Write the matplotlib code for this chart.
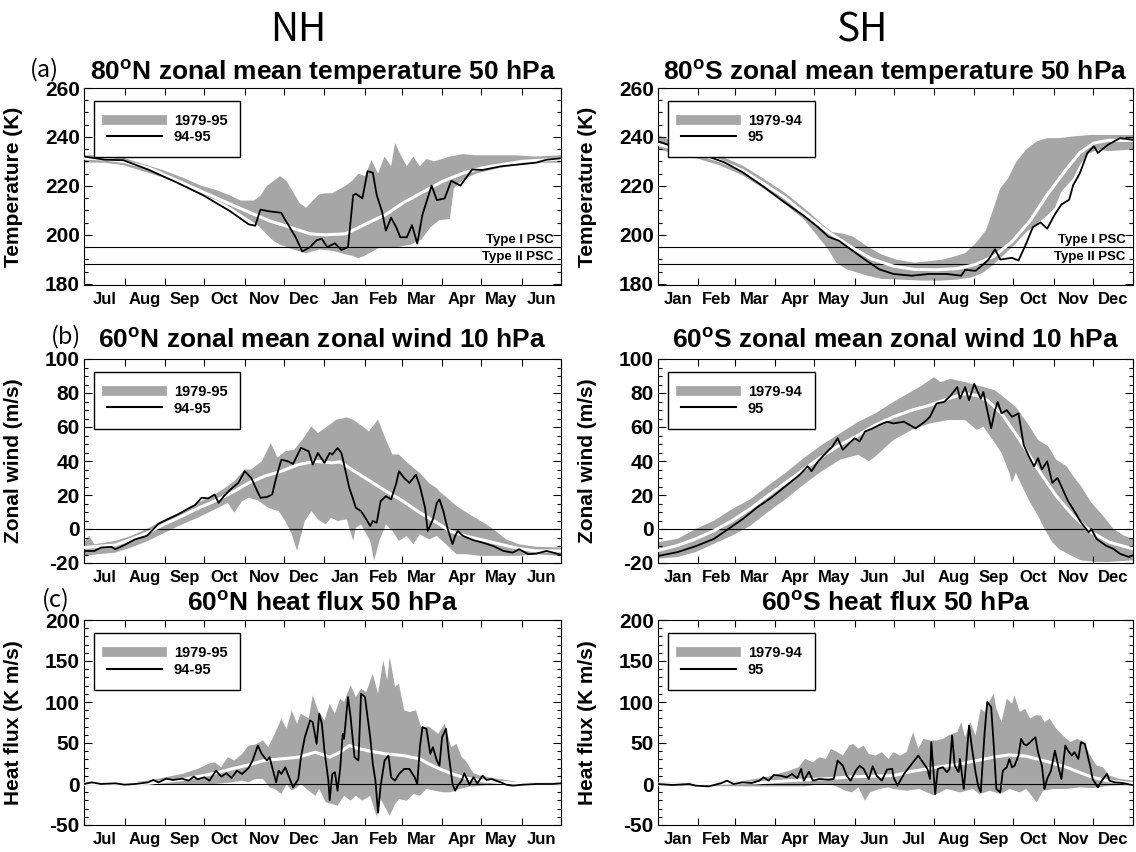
import numpy as np
from matplotlib import pyplot as plt
from matplotlib import transforms
from matplotlib.lines import Line2D
from matplotlib.ticker import MultipleLocator, NullFormatter

plt.rcParams["font.family"] = ["Liberation Sans", "DejaVu Sans"]
plt.rcParams["font.weight"] = "bold"
plt.rcParams["axes.unicode_minus"] = False
plt.rcParams["mathtext.fontset"] = "custom"
plt.rcParams["mathtext.bf"] = "Liberation Sans:bold"
plt.rcParams["mathtext.rm"] = "Liberation Sans:bold"

BAND = "#a6a6a6"

NH_MONTHS = ["Jul", "Aug", "Sep", "Oct", "Nov", "Dec", "Jan", "Feb", "Mar", "Apr", "May", "Jun"]
NH_MONTH_LEN = [31, 31, 30, 31, 30, 31, 31, 28, 31, 30, 31, 30]
SH_MONTHS = ["Jan", "Feb", "Mar", "Apr", "May", "Jun", "Jul", "Aug", "Sep", "Oct", "Nov", "Dec"]
SH_MONTH_LEN = [31, 28, 31, 30, 31, 30, 31, 31, 30, 31, 30, 31]
NH_LEGEND = ["1979-95", "94-95"]
SH_LEGEND = ["1979-94", "95"]
PSC_TEMP = [195, 188]
PSC_NAME = ["Type I PSC", "Type II PSC"]

# (a) NH 80N temperature 50 hPa, day 0 = 1 Jul
nh_t_hi_day = [0, 15, 30, 45, 60, 75, 90, 100, 110, 120, 130, 135, 140, 145, 150, 155, 160, 165, 170, 175,
               180, 185, 190, 195, 200, 205, 210, 215, 220, 225, 230, 235, 238, 242, 247, 252, 257, 262, 268, 274,
               280, 290, 300, 315, 330, 345, 365]
nh_t_hi = [232.5, 232.5, 231.5, 229, 226.5, 223.5, 220, 218.5, 216.5, 214, 214, 216, 220, 222, 224, 222, 217.5, 213, 211, 214,
           216.5, 217, 217, 218.5, 220, 222, 225, 224, 230.5, 225, 232, 228, 237.5, 233, 228, 232, 228, 231, 230, 231,
           232, 233, 232.5, 232.5, 232.5, 232, 232.5]
nh_t_lo_day = [0, 15, 30, 45, 60, 75, 90, 100, 110, 120, 130, 135, 140, 145, 150, 160, 170, 180, 190, 200,
               205, 210, 215, 220, 225, 230, 240, 250, 258, 265, 272, 280, 283, 290, 300, 315, 330, 345, 365]
nh_t_lo = [229.5, 229.5, 228.5, 226, 223.5, 220.5, 216.5, 214.5, 212, 208.5, 205, 203, 200, 197.5, 196, 194, 192.5, 194, 193.5, 192,
           191.5, 190.5, 191.5, 193, 194.5, 195, 195, 196, 198, 203, 206, 206.5, 219, 222.5, 225, 227, 228.5, 229.5, 229.5]
nh_t_mean_day = [0, 15, 30, 49, 70, 91, 123, 142, 154, 173, 184, 200, 208, 215, 231, 244, 261, 275, 291, 305, 335, 365]
nh_t_mean = [231.3, 231, 230, 227.4, 222.5, 217.5, 210, 205.7, 203.7, 200.4, 200, 200.4, 202.4, 204.3, 208.3, 213, 218, 222,
             225.4, 227.4, 230, 231]
nh_t_obs_day = [0, 16, 30, 49, 71, 91, 112, 126, 131, 135, 142, 151, 153, 162, 167, 173, 178, 182, 186, 192,
                197, 202, 206, 208, 213, 217, 221, 224, 228, 231, 235, 239, 242, 247, 251, 255, 259, 266, 270, 276,
                281, 288, 297, 305, 319, 332, 346, 354, 365]
nh_t_obs = [232, 230.7, 230.5, 226.7, 221.4, 216.2, 209.6, 204.3, 203.7, 210.3, 209.6, 209, 207, 199, 193.2, 195, 197.8, 198.4, 195, 196.5,
            193.8, 195, 216.2, 216.8, 214.9, 226, 225.4, 216.2, 209.6, 201.7, 207, 203, 199, 199, 204, 196.4, 208.3, 220.1, 214.2, 214.9,
            222.1, 220.1, 226.7, 226.5, 228, 228.7, 229.5, 230.7, 231.3]

# (a) SH 80S temperature 50 hPa, day 0 = 1 Jan
sh_t_hi_day = [0, 15, 32, 48, 65, 81, 98, 115, 126, 134, 142, 150, 161, 172, 183, 197, 208, 219, 228, 236,
               244, 252, 258, 263, 269, 275, 283, 291, 299, 308, 319, 332, 346, 365]
sh_t_hi = [240.8, 237.5, 234.9, 232.2, 228.3, 223, 217, 209.7, 204.4, 201.1, 200.5, 199.2, 195.2, 191.9, 189.9, 188.6, 189.2, 189.9, 191.2, 192.5,
           196.5, 201.8, 211.1, 219, 223, 229.6, 234.9, 238.2, 239.5, 239.5, 240.2, 240.8, 240.8, 240.8]
sh_t_lo_day = [0, 15, 32, 48, 65, 81, 98, 112, 123, 131, 137, 145, 153, 161, 172, 186, 203, 217, 230, 241,
               250, 258, 266, 275, 283, 291, 299, 305, 310, 319, 324, 330, 338, 346, 365]
sh_t_lo = [234.9, 232.9, 230.9, 228.3, 224.3, 219, 212.4, 206.4, 199.2, 193.9, 188.6, 185.9, 184.6, 183.3, 182, 181.7, 181.3, 181.3, 181.7, 182.6,
           184.6, 187.9, 191.9, 196.5, 201.1, 204.4, 207.8, 211.1, 217.7, 223, 228.3, 232.9, 234.9, 234.2, 234.9]
sh_t_mean_day = [0, 15, 32, 48, 65, 81, 98, 115, 131, 148, 164, 181, 197, 214, 230, 244, 258, 272, 286, 299,
                 313, 324, 335, 346, 365]
sh_t_mean = [236.9, 235.1, 232.9, 230.2, 226.3, 221, 215, 207.7, 201.1, 195.2, 190.2, 187.2, 185.9, 185.7, 186.2, 187.9, 191.2, 197.2, 205.8, 216.3,
             226.3, 233.5, 237.5, 238.6, 238.6]
sh_t_obs_day = [0, 15, 32, 51, 65, 81, 98, 112, 123, 131, 139, 148, 159, 170, 181, 195, 208, 222, 233, 236,
                244, 250, 254, 259, 263, 272, 277, 283, 288, 294, 299, 305, 310, 316, 319, 324, 330, 335, 338, 346,
                355, 365]
sh_t_obs = [238.2, 235.5, 233.3, 229.6, 225.6, 219.7, 213, 207.8, 203.1, 199.2, 197.6, 194.1, 189.9, 185.9, 184, 183.3, 184, 184, 183.3, 185.7,
            185.3, 187.9, 189.9, 194.1, 189.9, 190.6, 189.5, 196.5, 203.1, 205.1, 202.5, 208.4, 212.4, 214.4, 220.3, 225, 233.5, 236.2, 233.5, 236.9,
            239.5, 238.8]

# (b) NH 60N zonal wind 10 hPa
nh_u_hi_day = [0, 4, 8, 24, 36, 49, 62, 75, 87, 100, 108, 115, 123, 128, 136, 143, 148, 154, 161, 168,
               174, 179, 188, 193, 201, 206, 213, 218, 225, 231, 236, 241, 246, 252, 257, 264, 270, 272, 277, 285,
               295, 308, 315, 323, 333, 346, 365]
nh_u_hi = [-8, -4, -9, -7, -4.1, 0.4, 5.7, 10.5, 15.4, 20.3, 24.2, 28.1, 35, 35, 39.8, 50.6, 42, 45.7, 46.7, 53.5,
           60.4, 56.4, 61.3, 64.3, 65.6, 64.3, 60.4, 57.4, 64.3, 52.5, 43.8, 43.8, 40, 36, 33, 27, 24, 22, 19, 13.5,
           8.6, 2.7, -1.2, -6.1, -9, -10.5, -10.9]
nh_u_lo_day = [0, 11, 24, 36, 49, 62, 75, 87, 100, 110, 115, 121, 126, 133, 141, 149, 154, 159, 163, 165,
               169, 174, 179, 185, 189, 194, 201, 206, 208, 212, 219, 222, 226, 231, 236, 241, 247, 252, 257, 264,
               270, 277, 285, 292, 303, 313, 323, 333, 346, 365]
nh_u_lo = [-15.8, -14.8, -13.9, -10.9, -7, -2.1, 2.7, 6.6, 11.5, 15.4, 9.6, 16.4, 18.4, 16.8, 12.5, 10.5, 4.7, -3.1, -12.9, -7,
           4.7, 10.5, 5.7, 2.7, 6.6, 4.7, 5.7, -7, 0.8, 2.7, -7, -18.8, -7, 2.7, -1.2, -7, -4.1, -9, -3.1, -6.1,
           -4.1, -9, -14.8, -14.8, -15.8, -15.8, -15.8, -15.8, -14.8, -16]
nh_u_mean_day = [0, 24, 36, 49, 61, 75, 87, 100, 113, 126, 138, 151, 164, 177, 190, 196, 203, 219, 231, 244,
                 257, 270, 280, 295, 308, 321, 333, 346, 365]
nh_u_mean = [-10.9, -9.4, -6.1, -2.1, 2.7, 7.6, 12.1, 16.4, 21.3, 27.1, 31, 34, 37.9, 39.8, 38.9, 39.5, 35.9, 28.1, 22.3, 16.4,
             9.6, 3.7, -1.2, -4.7, -7, -9.4, -11.5, -12.9, -12.9]
nh_u_obs_day = [0, 8, 13, 21, 24, 31, 39, 48, 53, 57, 64, 72, 80, 85, 90, 95, 100, 103, 107, 112,
                118, 123, 128, 132, 135, 140, 144, 147, 151, 156, 160, 166, 172, 175, 179, 184, 188, 190, 194, 197,
                199, 203, 206, 208, 212, 216, 219, 221, 224, 227, 231, 235, 239, 241, 245, 249, 254, 257, 261, 263,
                267, 270, 272, 275, 278, 282, 284, 286, 290, 298, 305, 313, 321, 328, 333, 340, 346, 354, 359, 365]
nh_u_obs = [-12.9, -12.9, -10.9, -10.5, -11.9, -9.4, -6.1, -4.1, -0.2, 3.1, 5.7, 8.6, 12.1, 14.1, 18.4, 18, 20.3, 15.4, 19.3, 23.2,
            27.1, 34, 30, 23.2, 18.4, 18.8, 20.3, 30, 40.8, 39.8, 38.3, 47.7, 45.7, 37.9, 44.7, 38.9, 44.7, 43.8, 47.7, 44.7,
            37.9, 24.2, 17.4, 12.5, 10.5, 5.7, 1.8, 4.7, 3.7, 16.4, 19.3, 17.4, 27.1, 34, 30, 27.1, 32, 25.2, 12.5, -1.2,
            5.7, 15.4, 17.4, 10.5, 0.8, -9, -4.1, -1.2, -4.1, -6.6, -8, -10, -12.9, -13.9, -11.9, -14.8, -14.5, -12.9, -13.9, -15.2]

# (b) SH 60S zonal wind 10 hPa
sh_u_hi_day = [0, 15, 29, 43, 57, 71, 84, 98, 112, 126, 140, 154, 167, 181, 192, 203, 212, 217, 225, 236,
               250, 259, 267, 275, 284, 292, 300, 306, 314, 319, 325, 333, 342, 350, 358, 365]
sh_u_hi = [-7.8, -5.8, 0, 4.9, 11.7, 17.5, 25.2, 33, 41.7, 49.5, 56.3, 63.1, 68, 74.8, 79.6, 84.5, 89.3, 86.4, 88.3, 86.4,
           83.5, 81.6, 76.7, 71.8, 62.1, 52.4, 48.5, 40.8, 36.9, 31.1, 25.2, 15.5, 7.8, 0, -3.9, -5.8]
sh_u_lo_day = [0, 15, 29, 43, 57, 71, 84, 98, 112, 126, 140, 154, 162, 167, 181, 195, 209, 223, 236, 245,
               250, 259, 264, 270, 272, 275, 281, 286, 292, 297, 303, 308, 317, 325, 336, 347, 365]
sh_u_lo = [-17.5, -16.5, -13.6, -8.7, -3.9, 1.9, 9.7, 17.5, 26.2, 34, 40.8, 43.7, 39.8, 42.7, 52.4, 58.3, 62.1, 64.1, 64.1, 58.3,
           60.2, 50.5, 44.7, 33, 27.2, 33, 23.3, 15.5, 7.8, 0, -7.8, -11.7, -15.5, -18.4, -19.4, -19.4, -18.4]
sh_u_mean_day = [0, 15, 29, 43, 57, 71, 84, 98, 112, 126, 140, 154, 167, 181, 195, 209, 223, 236, 245, 253,
                 264, 278, 292, 306, 319, 333, 347, 365]
sh_u_mean = [-12.6, -9.7, -5.8, -1, 4.9, 12, 19.4, 27.2, 35, 42.7, 49.5, 55.3, 61.2, 66, 69.9, 72.8, 76.7, 79.6, 78.6, 75.7,
             68, 52.4, 35, 19.4, 7.8, -1.9, -7.8, -11.7]
sh_u_obs_day = [0, 15, 29, 43, 54, 65, 76, 87, 98, 109, 115, 118, 123, 129, 134, 138, 142, 147, 151, 155,
                159, 165, 170, 176, 181, 189, 198, 205, 209, 214, 220, 225, 230, 232, 236, 239, 243, 248, 250, 256,
                259, 261, 264, 268, 272, 277, 281, 285, 289, 292, 295, 299, 303, 307, 311, 315, 319, 325, 331, 333,
                337, 344, 350, 355, 362, 365]
sh_u_obs = [-15.9, -13.6, -10.1, -5.8, 0, 5.8, 12.6, 18.4, 25.2, 32, 36.9, 34, 39.8, 44.7, 48.5, 53.4, 46.6, 50.5, 53.4, 51.5,
            57.3, 59.2, 61.2, 63.1, 62.1, 63.1, 59.2, 63.1, 66, 73.8, 74.8, 78.6, 83.5, 76.7, 83.5, 75.7, 85.4, 76.7, 80.6, 59.2,
            69.9, 74.8, 68, 69.9, 66, 68, 49.5, 42.7, 36.9, 41.7, 35, 39.8, 27.2, 30.1, 23.3, 16.5, 11.7, 3.9, -1.9, 0,
            -5.8, -9.7, -11.7, -14.6, -16.5, -15.5]

# (c) NH 60N heat flux 50 hPa
nh_q_hi_day = [0, 36, 49, 62, 75, 87, 95, 100, 105, 110, 115, 121, 126, 131, 137, 141, 146, 151, 155, 159,
               163, 166, 172, 175, 179, 184, 188, 192, 196, 199, 204, 208, 212, 216, 221, 225, 229, 232, 234, 238,
               241, 245, 249, 254, 258, 264, 271, 276, 281, 285, 289, 292, 298, 303, 313, 323, 333, 365]
nh_q_hi = [2, 2, 4.1, 8.2, 12.2, 18.4, 24.5, 26.5, 20.4, 32.7, 28.6, 36.7, 46.9, 48, 53.1, 44.9, 61.2, 79.6, 67.3, 89.8,
           73.5, 85.7, 80, 108.2, 89.8, 77.6, 98, 85.7, 104.1, 100, 120.4, 106.1, 116.3, 112, 134.7, 110.2, 151, 126.5, 155.1, 118.4,
           122.4, 89.8, 87.8, 89.8, 69.4, 70, 61.2, 73.5, 44.9, 49, 32.7, 28.6, 13.1, 10.2, 7.3, 4.9, 2, 2]
nh_q_lo_day = [0, 75, 100, 113, 121, 126, 131, 137, 142, 146, 151, 155, 159, 163, 166, 172, 177, 180, 185, 189,
               194, 199, 204, 208, 213, 219, 224, 227, 234, 238, 241, 247, 252, 257, 262, 268, 275, 281, 287, 295,
               308, 333, 365]
nh_q_lo = [-0.8, -0.8, 0, 2, 4.1, 2, 6.1, 6.1, -4.1, -6.1, -12.2, 0, -8.2, -4.1, 0, -8.2, -14.3, -6.1, -22.4, -24,
           -26.5, -14.3, -20.4, -14.3, -20.4, -14.3, -40, -18.4, -38.8, -24.5, -18.4, -20.4, -12.2, -14.3, -6.1, -8.2, -10.2, -10, -6.1, -3.3,
           -1.6, -0.8, -0.8]
nh_q_mean_day = [0, 49, 75, 100, 113, 126, 138, 151, 164, 177, 188, 196, 203, 211, 219, 231, 244, 257, 264, 272,
                 282, 292, 303, 318, 333, 365]
nh_q_mean = [0, 0.8, 5.3, 13.1, 18.4, 23.3, 28.6, 30.6, 32.7, 38.8, 32.7, 38.8, 46.9, 42.9, 40, 36.7, 34.7, 30.6, 24.5, 18.4,
             12.2, 7.3, 4.1, 2, 0.4, 0]
nh_q_obs_day = [0, 6, 13, 24, 31, 39, 49, 53, 57, 63, 68, 75, 80, 84, 87, 92, 96, 101, 105, 109,
                113, 117, 121, 126, 129, 133, 136, 140, 142, 145, 147, 149, 151, 154, 156, 160, 164, 166, 169, 173,
                175, 178, 180, 182, 184, 187, 188, 190, 192, 194, 196, 198, 199, 202, 204, 207, 210, 212, 215, 219,
                221, 223, 225, 227, 230, 233, 235, 238, 241, 245, 249, 253, 255, 257, 259, 262, 265, 267, 270, 272,
                274, 277, 279, 282, 284, 286, 289, 291, 295, 298, 301, 305, 308, 312, 315, 319, 323, 328, 336, 346,
                359, 365]
nh_q_obs = [0, 2, 0, 0.8, -0.8, 0, 2, 4.9, 2, 6.5, 4.9, 6.5, 4.1, 9, 5.7, 8.2, 4.1, 16.3, 9, 13.1,
            7.3, 16.3, 12.2, 19.6, 28.6, 46.9, 36.7, 28.6, 32.7, 14.3, 2, 16.3, 12.2, 20.4, 12.2, -4.1, 6.1, 32.7, 57.1, 77.6,
            75.5, 49, 85.7, 73.5, 40.8, 4.1, -20, 12.2, 14.3, -8.2, 18.4, 61.2, 55.1, 106.1, 81.6, 32.7, 28.6, 110.2, 106.1, 57.1,
            24.5, 4.1, -35, -2, 28.6, 34.7, 8.2, 4.1, 12.2, 18.4, 18.4, 8.2, 0, 44.9, 69.4, 67.3, 36.7, 44.9, 28.6, 22.4,
            57.1, 67.3, 36.7, 0, -8.2, -2, 4.1, 13.1, -0.8, 8.2, 0.8, 10.2, 4.9, 6.1, 4.1, 2, -0.8, -2, -0.8, 0,
            0, 0.8]

# (c) SH 60S heat flux 50 hPa
sh_q_hi_day = [0, 62, 75, 88, 101, 108, 113, 119, 124, 129, 133, 138, 142, 147, 150, 154, 158, 162, 167, 172,
               177, 181, 186, 191, 196, 200, 204, 209, 214, 219, 224, 230, 233, 236, 240, 244, 248, 251, 255, 258,
               260, 264, 268, 272, 274, 278, 282, 286, 290, 294, 297, 301, 306, 311, 317, 322, 327, 332, 337, 342,
               347, 355, 365]
sh_q_hi = [2, 2.9, 6.1, 10.2, 16.3, 20.4, 30.6, 26.5, 32.7, 30.6, 42.9, 38.8, 34.7, 46.9, 49, 42.9, 46.9, 36.7, 34.7, 38.8,
           30.6, 38.8, 34.7, 38.8, 63.3, 42.9, 55.1, 53, 53.1, 55.1, 60, 63.3, 75.5, 57.1, 75.5, 59.2, 91.8, 87.8, 102, 110.2,
           91.8, 75.5, 104.1, 98, 108.2, 87.8, 91.8, 79.6, 83.7, 83.7, 75.5, 79.6, 67.3, 59.2, 51, 55, 52, 35, 22.4, 20.4,
           10.2, 6.1, 4.1]
sh_q_lo_day = [0, 75, 113, 126, 136, 144, 149, 154, 159, 163, 170, 177, 181, 191, 201, 212, 222, 232, 242, 247,
               255, 263, 270, 278, 283, 291, 296, 304, 314, 324, 334, 347, 365]
sh_q_lo = [-2, -3, -2.9, 0, -2, -8.2, -10.2, -4.1, -20.4, -10.2, -6.1, -4.1, -6.1, -8.2, -6.1, -14, -6.1, -10.2, -6.1, -12.2,
           -8.2, -12.2, -6.1, -10.2, -6.1, -22.4, -8.2, -6.1, -6.1, -4.1, -5, -2, -1.2]
sh_q_mean_day = [0, 75, 101, 126, 152, 181, 194, 207, 219, 232, 245, 258, 270, 283, 291, 301, 314, 327, 334, 345,
                 360, 365]
sh_q_mean = [0, 1.2, 4.1, 6.1, 9, 10.2, 15.1, 18.4, 21.6, 24.5, 28.6, 32.7, 35.5, 33.9, 30.6, 26.5, 20.4, 12.2, 8.2, 4.1,
             1.2, 0.4]
sh_q_obs_day = [0, 11, 24, 29, 39, 49, 53, 58, 65, 72, 78, 81, 85, 89, 94, 99, 103, 107, 110, 112,
                116, 119, 124, 131, 135, 138, 142, 145, 148, 152, 155, 158, 162, 165, 168, 172, 176, 180, 181, 184,
                189, 192, 200, 207, 209, 210, 213, 215, 219, 222, 224, 226, 228, 231, 232, 235, 237, 239, 241, 244,
                246, 248, 251, 253, 256, 258, 260, 263, 265, 268, 270, 272, 274, 277, 279, 281, 283, 286, 290, 292,
                295, 297, 299, 302, 305, 308, 310, 313, 315, 318, 320, 323, 325, 328, 332, 334, 338, 341, 345, 347,
                351, 357, 365]
sh_q_obs = [0, -1.2, 0, -2, -2.9, 1.2, 4.1, 0, 2, 1.2, 4.1, 8.2, 4.1, 11, 10.2, 8.2, 12.2, 6.9, 18.4, 4.1,
            15.1, 4.1, 6.1, 5.3, 6.1, 28.6, 22.4, 10.2, 4.1, 16.3, 22.4, 18.4, 6.1, 21.6, 10.2, 4.1, 17.6, 18.4, 8.2, -2,
            12.2, 18.4, 34.7, 18.4, 6.1, 51, -12.2, 18.4, 20.4, 14.3, 18.4, 59.2, 22.4, 14.3, 30.6, -6.1, 30.6, 71.4, 46.9, 14.3,
            -2, -10.2, 63.3, 100, 93.9, 46.9, -6.1, -10.2, 16.3, 20.4, 30.6, 20.4, 22.4, 34.7, 55.1, 49, 46.9, 51, 57.1, 38.8,
            22.4, -6.1, 6.1, 16.3, 40.8, 18.4, 6.1, 46.9, 40.8, 34.7, 38.8, 30.6, 51, 49, 22.4, 6.1, -4.1, 4.1, 12.2, 4.1,
            2, 1.2, -1.5]


def draw_panel(ax, band, mean, obs, months, month_len, legend_labels, ylim, major, minor):
    hi_day, hi, lo_day, lo = band
    ax.fill(np.r_[hi_day, lo_day[::-1]], np.r_[hi, lo[::-1]], color=BAND, lw=0, zorder=1)
    ax.plot(mean[0], mean[1], color="white", lw=2.2, zorder=3)
    ax.plot(obs[0], obs[1], color="black", lw=1.3, zorder=4)

    edges = np.cumsum([0] + month_len)
    mids = (edges[:-1] + edges[1:]) / 2
    ax.set_xlim(0, 365)
    ax.set_xticks(edges)
    ax.set_xticks(mids, minor=True)
    ax.set_xticklabels(months, minor=True)
    ax.xaxis.set_major_formatter(NullFormatter())
    ax.tick_params(axis="x", which="major", direction="in", top=True, length=5, width=0.8)
    ax.tick_params(axis="x", which="minor", length=0, pad=5, labelsize=12)

    ax.set_ylim(*ylim)
    ax.yaxis.set_major_locator(MultipleLocator(major))
    ax.yaxis.set_minor_locator(MultipleLocator(minor))
    ax.tick_params(axis="y", which="both", direction="in", right=True, width=0.8, labelsize=15, pad=3)
    ax.tick_params(axis="y", which="major", length=6)
    ax.tick_params(axis="y", which="minor", length=3)

    handles = [Line2D([], [], color=BAND, lw=7), Line2D([], [], color="black", lw=1.5)]
    leg = ax.legend(handles, legend_labels, loc="upper left", bbox_to_anchor=(0.02, 0.935),
                    borderaxespad=0, fancybox=False, edgecolor="black", framealpha=1,
                    handlelength=3.8, handletextpad=0.8, borderpad=0.9, labelspacing=0.15,
                    prop={"weight": "bold", "size": 10.5})
    leg.get_frame().set_linewidth(1.0)


def add_title(fig, ax, y, text):
    pos = ax.get_position()
    fig.text((pos.x0 + pos.x1) / 2, y, text, ha="center", va="center", fontsize=19, weight="bold")


fig = plt.figure(figsize=(11.36, 8.52), dpi=100)
W, H = 1136, 852
cols = [(84, 561), (658, 1133)]
rows = [(88, 285), (359, 563), (620, 825)]
axes = [[fig.add_axes([c[0] / W, 1 - r[1] / H, (c[1] - c[0]) / W, (r[1] - r[0]) / H]) for c in cols] for r in rows]

draw_panel(axes[0][0], (nh_t_hi_day, nh_t_hi, nh_t_lo_day, nh_t_lo), (nh_t_mean_day, nh_t_mean),
           (nh_t_obs_day, nh_t_obs), NH_MONTHS, NH_MONTH_LEN, NH_LEGEND, (179.5, 260), 20, 5)
draw_panel(axes[0][1], (sh_t_hi_day, sh_t_hi, sh_t_lo_day, sh_t_lo), (sh_t_mean_day, sh_t_mean),
           (sh_t_obs_day, sh_t_obs), SH_MONTHS, SH_MONTH_LEN, SH_LEGEND, (179.5, 260), 20, 5)
draw_panel(axes[1][0], (nh_u_hi_day, nh_u_hi, nh_u_lo_day, nh_u_lo), (nh_u_mean_day, nh_u_mean),
           (nh_u_obs_day, nh_u_obs), NH_MONTHS, NH_MONTH_LEN, NH_LEGEND, (-20, 100), 20, 5)
draw_panel(axes[1][1], (sh_u_hi_day, sh_u_hi, sh_u_lo_day, sh_u_lo), (sh_u_mean_day, sh_u_mean),
           (sh_u_obs_day, sh_u_obs), SH_MONTHS, SH_MONTH_LEN, SH_LEGEND, (-20, 100), 20, 5)
draw_panel(axes[2][0], (nh_q_hi_day, nh_q_hi, nh_q_lo_day, nh_q_lo), (nh_q_mean_day, nh_q_mean),
           (nh_q_obs_day, nh_q_obs), NH_MONTHS, NH_MONTH_LEN, NH_LEGEND, (-50, 200), 50, 10)
draw_panel(axes[2][1], (sh_q_hi_day, sh_q_hi, sh_q_lo_day, sh_q_lo), (sh_q_mean_day, sh_q_mean),
           (sh_q_obs_day, sh_q_obs), SH_MONTHS, SH_MONTH_LEN, SH_LEGEND, (-50, 200), 50, 10)

for ax in axes[0]:
    trans = transforms.blended_transform_factory(ax.transAxes, ax.transData)
    for t, name in zip(PSC_TEMP, PSC_NAME):
        ax.axhline(t, color="black", lw=0.8, zorder=2)
        ax.text(0.985, t + 0.3, name, transform=trans, ha="right", va="bottom", fontsize=9.5, weight="bold", zorder=5)
for ax in axes[1] + axes[2]:
    ax.axhline(0, color="black", lw=0.8, zorder=2)

ylabels = ["Temperature (K)", "Zonal wind (m/s)", "Heat flux (K m/s)"]
for row, label in zip(axes, ylabels):
    for ax in row:
        ax.set_ylabel(label, fontsize=15, weight="bold")
        ax.yaxis.set_label_coords(-0.128, 0.5)

add_title(fig, axes[0][0], 1 - 72 / H, r"80$^\mathbf{o}$N zonal mean temperature 50 hPa")
add_title(fig, axes[0][1], 1 - 72 / H, r"80$^\mathbf{o}$S zonal mean temperature 50 hPa")
add_title(fig, axes[1][0], 1 - 340 / H, r"60$^\mathbf{o}$N zonal mean zonal wind 10 hPa")
add_title(fig, axes[1][1], 1 - 340 / H, r"60$^\mathbf{o}$S zonal mean zonal wind 10 hPa")
add_title(fig, axes[2][0], 1 - 603 / H, r"60$^\mathbf{o}$N heat flux 50 hPa")
add_title(fig, axes[2][1], 1 - 603 / H, r"60$^\mathbf{o}$S heat flux 50 hPa")

cjk = ["Noto Sans CJK JP", "DejaVu Sans"]
fig.text(44 / W, 1 - 70 / H, "(a)", ha="center", va="center", fontsize=17, family=cjk, weight="normal")
fig.text(66 / W, 1 - 337 / H, "(b)", ha="center", va="center", fontsize=17, family=cjk, weight="normal")
fig.text(56 / W, 1 - 600 / H, "(c)", ha="center", va="center", fontsize=17, family=cjk, weight="normal")
fig.text(298 / W, 1 - 30 / H, "NH", ha="center", va="center", fontsize=28, family=cjk, weight="normal")
fig.text(862 / W, 1 - 30 / H, "SH", ha="center", va="center", fontsize=28, family=cjk, weight="normal")

fig.savefig("out.png", dpi=100)
